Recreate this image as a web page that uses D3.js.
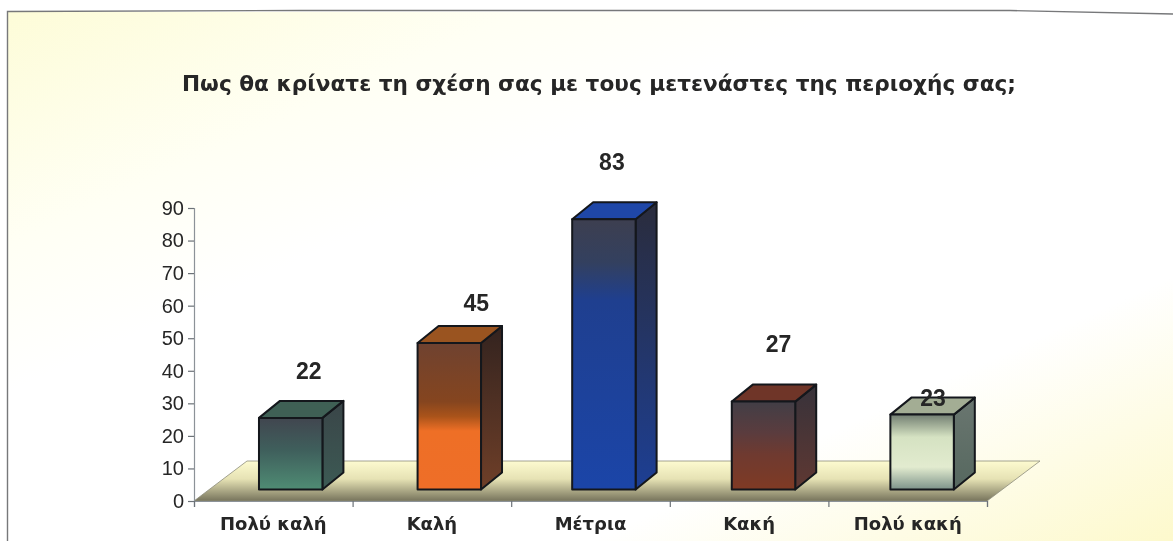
<!DOCTYPE html>
<html>
<head>
<meta charset="utf-8">
<script src="https://cdn.jsdelivr.net/npm/d3@7"></script>
<style>
  html, body { margin: 0; padding: 0; background: #fff; overflow: hidden; }
  svg { display: block; filter: blur(0.5px); }
  text { font-family: "Liberation Sans", Arial, sans-serif; fill: #262626; }
  text.wide { font-family: "DejaVu Sans", sans-serif; font-weight: bold; }
</style>
</head>
<body>
<div class="svg-container"></div>
<script>
const categories = ['Πολύ καλή', 'Καλή', 'Μέτρια', 'Κακή', 'Πολύ κακή'];
const values = [22, 45, 83, 27, 23];
const yTicks = [0, 10, 20, 30, 40, 50, 60, 70, 80, 90];
const titleText = 'Πως θα κρίνατε τη σχέση σας με τους μετενάστες της περιοχής σας;';

// hand placed labels in the original, offset from the top of each bar
const labelShift = [[18, -47], [27, -40], [8, -58], [15, -58], [11, -17]];
// bars are not quite evenly spaced in the scan
const barNudge = [0, 0, -4, -3, -3];

// front face gradient stops, then side and top colours
const faces = [
  { stops: [[0, '#41464f'], [0.45, '#3f5f5c'], [1, '#4f8c74']], side: ['#3a4548', '#3c5a54'], top: '#3f6055' },
  { stops: [[0, '#6f4230'], [0.4, '#85451f'], [0.5, '#a9531a'], [0.6, '#ee6f26'], [1, '#ee6e28']], side: ['#33231f', '#6f3f28'], top: '#9a5420' },
  { stops: [[0, '#3d3f50'], [0.16, '#33405f'], [0.3, '#1f3f8f'], [1, '#1b45a8']], side: ['#2a2c3c', '#1d3f94'], top: '#1f47a8' },
  { stops: [[0, '#423e46'], [0.35, '#5a3c3e'], [0.6, '#6f3a30'], [1, '#7f3a24']], side: ['#37323a', '#5f3832'], top: '#6f3528' },
  { stops: [[0, '#737f72'], [0.3, '#d5e2c2'], [0.7, '#e2ebcf'], [1, '#7d938a']], side: ['#6a7670', '#56685f'], top: '#a3ad94' }
];

const W = 1173, H = 541;
const depthX = 21, depthY = 17;     // bar depth
const floorX = 53, floorY = 40;     // floor depth
const barShiftX = 17.4, barBaseUp = 11.5;

const svg = d3.select('.svg-container').append('svg')
  .attr('width', W).attr('height', H).attr('viewBox', '0 0 ' + W + ' ' + H);
const defs = svg.append('defs');

// page wash, yellow at top left and bottom right
const bg1 = defs.append('linearGradient').attr('id', 'bgWash')
  .attr('x1', 0).attr('y1', 0).attr('x2', 1).attr('y2', 1);
bg1.append('stop').attr('offset', 0).attr('stop-color', '#fdfcd8');
bg1.append('stop').attr('offset', 0.22).attr('stop-color', '#fffff4');
bg1.append('stop').attr('offset', 0.36).attr('stop-color', '#ffffff');
bg1.append('stop').attr('offset', 0.75).attr('stop-color', '#ffffff');
bg1.append('stop').attr('offset', 1).attr('stop-color', '#fdf9cc');

const floorGrad = defs.append('linearGradient').attr('id', 'floorGrad')
  .attr('x1', 0).attr('y1', 0).attr('x2', 0).attr('y2', 1);
floorGrad.append('stop').attr('offset', 0).attr('stop-color', '#fdfbd0');
floorGrad.append('stop').attr('offset', 0.45).attr('stop-color', '#e6e2b4');
floorGrad.append('stop').attr('offset', 1).attr('stop-color', '#77745c');

svg.append('rect').attr('x', 8).attr('y', 12).attr('width', W - 8).attr('height', H - 12)
  .attr('fill', 'url(#bgWash)');

// frame, the scan sits a little crooked
svg.append('path')
  .attr('d', 'M7.5,541 L7.5,11.5 L300,10.5 L1010,10.5 L1173,14')
  .attr('fill', 'none').attr('stroke', '#77787a').attr('stroke-width', 1.4);

const x = d3.scaleBand().domain(categories).range([194, 987]).paddingInner(0.6).paddingOuter(0.3);
const xEdges = d3.scaleLinear().domain([0, 5]).range([194, 987]);
const y = d3.scaleLinear().domain([0, 90]).range([501, 208]);

// floor
const floorTop = y(0) - floorY;
svg.append('path')
  .attr('d', 'M' + x.range()[0] + ',' + y(0)
    + ' L' + (x.range()[0] + floorX) + ',' + floorTop
    + ' L' + (x.range()[1] + floorX) + ',' + floorTop
    + ' L' + x.range()[1] + ',' + y(0) + ' Z')
  .attr('fill', 'url(#floorGrad)').attr('stroke', '#8d8d7c').attr('stroke-width', 0.8);

// axes
const yAxis = svg.append('g').attr('transform', 'translate(194,0)')
  .call(d3.axisLeft(y).tickValues(yTicks).tickSize(6).tickPadding(4));
yAxis.selectAll('text').style('font-size', '20px');

const xTickAxis = svg.append('g').attr('transform', 'translate(0,501)')
  .call(d3.axisBottom(xEdges).ticks(5).tickSize(6).tickFormat(''));

const xAxis = svg.append('g').attr('transform', 'translate(0,501)')
  .call(d3.axisBottom(x).tickSize(0).tickPadding(16));
xAxis.select('.domain').remove();
xAxis.selectAll('text').attr('class', 'wide').attr('dy', '0.72em')
  .style('font-size', '18px');

svg.selectAll('.domain').attr('stroke', '#8c9298').attr('stroke-width', 1.2);
svg.selectAll('.tick line').attr('stroke', '#6c7278').attr('stroke-width', 1.2);

// bars
const rows = categories.map(function(c, i) {
  return { cat: c, val: values[i], face: faces[i], shift: labelShift[i], nudge: barNudge[i], i: i };
});

rows.forEach(function(d) {
  const g = defs.append('linearGradient').attr('id', 'front' + d.i)
    .attr('x1', 0).attr('y1', 0).attr('x2', 0).attr('y2', 1);
  d.face.stops.forEach(function(s) {
    g.append('stop').attr('offset', s[0]).attr('stop-color', s[1]);
  });
  const sg = defs.append('linearGradient').attr('id', 'side' + d.i)
    .attr('x1', 0).attr('y1', 0).attr('x2', 0).attr('y2', 1);
  sg.append('stop').attr('offset', 0).attr('stop-color', d.face.side[0]);
  sg.append('stop').attr('offset', 1).attr('stop-color', d.face.side[1]);
});

const bars = svg.selectAll('g.bar').data(rows).enter().append('g').attr('class', 'bar')
  .attr('transform', function(d) { return 'translate(' + (barShiftX + d.nudge) + ',' + (-barBaseUp) + ')'; })
  .attr('stroke', '#14171c').attr('stroke-width', 2).attr('stroke-linejoin', 'round');

bars.append('path')
  .attr('fill', function(d) { return 'url(#side' + d.i + ')'; })
  .attr('d', function(d) {
    const r = x(d.cat) + x.bandwidth();
    return 'M' + r + ',' + y(d.val) + ' l' + depthX + ',' + (-depthY)
      + ' L' + (r + depthX) + ',' + (y(0) - depthY) + ' L' + r + ',' + y(0) + ' Z';
  });

bars.append('path')
  .attr('fill', function(d) { return d.face.top; })
  .attr('d', function(d) {
    return 'M' + x(d.cat) + ',' + y(d.val) + ' l' + depthX + ',' + (-depthY)
      + ' h' + x.bandwidth() + ' l' + (-depthX) + ',' + depthY + ' Z';
  });

bars.append('rect')
  .attr('fill', function(d) { return 'url(#front' + d.i + ')'; })
  .attr('x', function(d) { return x(d.cat); })
  .attr('y', function(d) { return y(d.val); })
  .attr('width', x.bandwidth())
  .attr('height', function(d) { return y(0) - y(d.val); });

// value labels
svg.selectAll('text.val').data(rows).enter().append('text').attr('class', 'val')
  .attr('x', function(d) { return x(d.cat) + x.bandwidth() / 2 + barShiftX + d.nudge + d.shift[0]; })
  .attr('y', function(d) { return y(d.val) - barBaseUp + d.shift[1]; })
  .attr('dy', '0.36em')
  .attr('text-anchor', 'middle')
  .style('font-size', '23px').style('font-weight', 'bold')
  .text(function(d) { return d.val; });

svg.append('text').attr('class', 'wide')
  .attr('x', 182).attr('y', 91)
  .attr('textLength', 834).attr('lengthAdjust', 'spacingAndGlyphs')
  .style('font-size', '22px')
  .text(titleText);
</script>
</body>
</html>
